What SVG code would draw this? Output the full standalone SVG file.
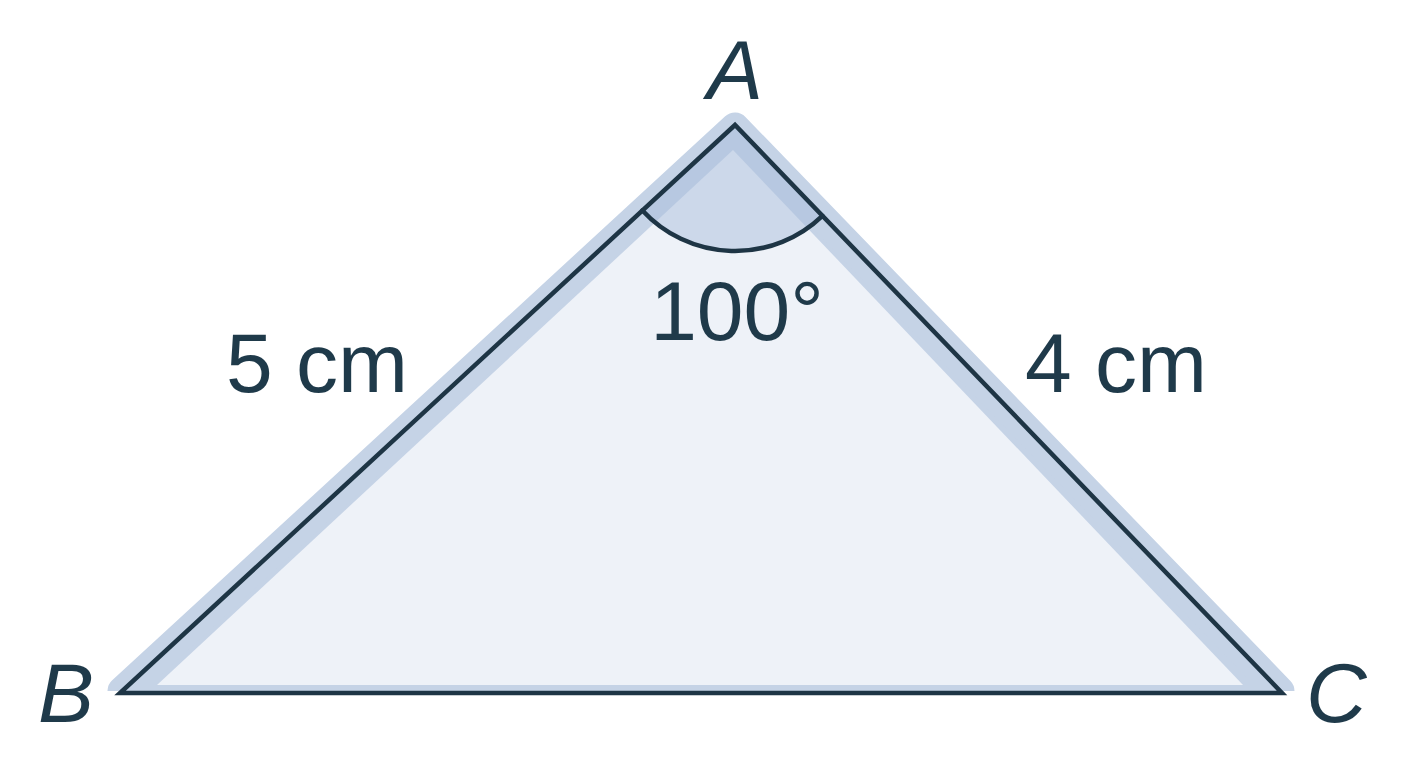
<svg xmlns="http://www.w3.org/2000/svg" width="1408" height="768" viewBox="0 0 1408 768">
  <defs>
    <style>
      .lbl { font-family: "Liberation Sans", Arial, sans-serif; font-size: 84px; fill: #1f3a4a; }
      .it { font-style: italic; }
      .edge { fill: none; stroke: #1e3545; stroke-width: 4.5; stroke-linejoin: miter; stroke-linecap: round; }
    </style>
    <clipPath id="bandClip">
      <rect x="0" y="0" width="1408" height="691"/>
    </clipPath>
  </defs>
  <rect width="1408" height="768" fill="#ffffff"/>
  <g id="triangle">
    <path d="M735,127 L122,691 L1280,691 Z" fill="#c5d3e6" stroke="#c5d3e6" stroke-width="29" stroke-linejoin="round" clip-path="url(#bandClip)"/>
    <polygon points="733,150 157,685 1243,685" fill="#eef2f8"/>
  </g>
  <g id="angle-A">
    <path d="M735,125 L642.4,210.5 A126,126 0 0 0 822.4,215.8 Z" fill="#a9bedb" fill-opacity="0.5"/>
    <path d="M642.4,210.5 A126,126 0 0 0 822.4,215.8" class="edge"/>
  </g>
  <g id="edges">
    <path d="M735,125 L120,693 L1282,693 Z" class="edge"/>
  </g>
  <g id="labels">
    <text id="label-A" class="lbl it" x="735" y="99" text-anchor="middle">A</text>
    <text id="label-B" class="lbl it" x="38" y="722">B</text>
    <text id="label-C" class="lbl it" x="1306" y="722">C</text>
    <text id="label-angle" class="lbl" x="737" y="340" text-anchor="middle">100°</text>
    <text id="label-AB" class="lbl" x="226" y="392">5 cm</text>
    <text id="label-AC" class="lbl" x="1025" y="392">4 cm</text>
  </g>
</svg>
